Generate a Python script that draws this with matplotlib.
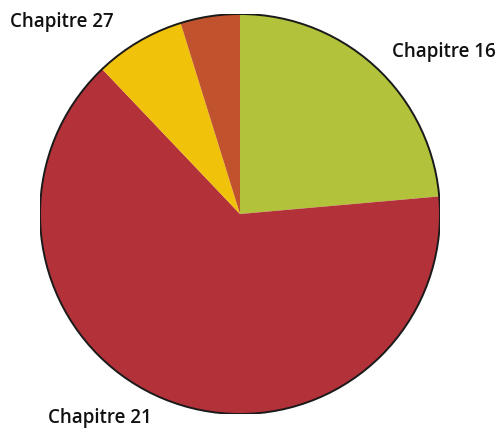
import matplotlib.pyplot as plt
from matplotlib.patches import Circle

# parts du camembert, dans le sens horaire depuis le haut
labels = ["Chapitre 16", "Chapitre 21", "Chapitre 27", ""]
values = [23.6, 64.3, 7.3, 4.8]
colors = ["#b2c23a", "#b3323a", "#f0c20a", "#c0532d"]

# position des étiquettes (coordonnées de l'axe, rayon = 1)
label_pos = {
    "Chapitre 16": (1.02, 0.81),
    "Chapitre 21": (-0.70, -1.02),
    "Chapitre 27": (-0.89, 0.96),
}

plt.rcParams["font.family"] = ["Open Sans", "DejaVu Sans"]

fig = plt.figure(figsize=(5.02, 4.34), dpi=100)
ax = fig.add_axes([40 / 502, 20 / 434, 400 / 502, 400 / 434])

ax.pie(values, colors=colors, startangle=90, counterclock=False,
       radius=1, wedgeprops={"linewidth": 0})
ax.add_patch(Circle((0, 0), 1, fill=False, edgecolor="#1a1a1a", linewidth=1.4))

for name, (x, y) in label_pos.items():
    ax.text(x, y, name, ha="center", va="center", fontsize=13.5,
            fontweight="semibold", color="#111111", clip_on=False)

ax.set_xlim(-1, 1)
ax.set_ylim(-1, 1)
ax.set_aspect("auto")
ax.axis("off")

fig.savefig("out.png", dpi=100)
